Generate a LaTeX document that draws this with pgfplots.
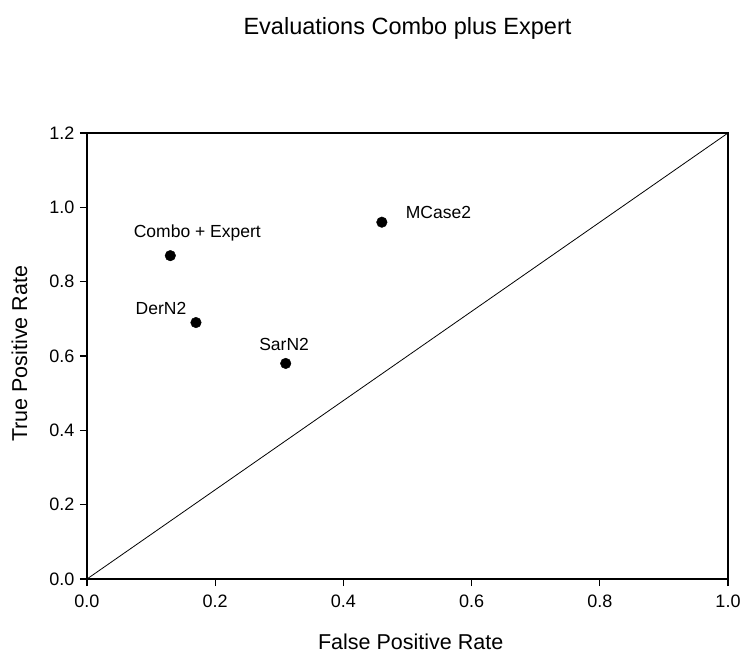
\documentclass[border=0pt]{standalone}
\usepackage{pgfplots}
\pgfplotsset{compat=1.18}
\usepackage{fontspec}
\setmainfont{Liberation Sans}
\newcommand{\ticksz}{\fontsize{18}{22}\selectfont}
\newcommand{\ptsz}{\fontsize{17.5}{21}\selectfont}
\newcommand{\labsz}{\fontsize{21.5}{26}\selectfont}
\newcommand{\titsz}{\fontsize{23.5}{28}\selectfont}
\begin{document}
\begin{tikzpicture}
\useasboundingbox (-87pt,-74pt) rectangle (654pt,579pt);
\begin{axis}[
  at={(0pt,0pt)}, anchor=south west,
  scale only axis, width=641pt, height=446pt,
  xmin=0, xmax=1, ymin=0, ymax=1.2,
  xtick={0,0.2,0.4,0.6,0.8,1.0},
  ytick={0,0.2,0.4,0.6,0.8,1.0,1.2},
  xtick pos=left, ytick pos=left,
  tick align=outside,
  major tick length=7pt,
  major tick style={black, line width=1.3pt},
  axis line style={line width=1.2pt},
  /pgf/number format/.cd, fixed, fixed zerofill, precision=1, assume math mode=true,
  /pgfplots/.cd,
  tick label style={font=\ticksz},
  xticklabel style={yshift=-5pt},
  yticklabel style={xshift=-2pt},
  title={Evaluations Combo plus Expert},
  title style={font=\titsz, at={(axis description cs:0.5,1.222)}, anchor=base, yshift=-7pt},
  xlabel={False Positive Rate},
  xlabel style={font=\labsz, at={(axis description cs:0.505,-0.157)}, anchor=base},
  ylabel={True Positive Rate},
  ylabel style={font=\labsz, at={(axis description cs:-0.0936,0.505)}, anchor=base},
  clip=false,
]
\addplot[black, line width=0.8pt, no marks] coordinates {(0,0) (1,1.2)};
\addplot[only marks, mark=*, mark size=5.3pt, black] coordinates {
  (0.13,0.87) (0.17,0.69) (0.31,0.58) (0.46,0.96)
};
\node[anchor=base, xshift=27pt, yshift=18pt, font=\ptsz] at (axis cs:0.13,0.87) {Combo + Expert};
\node[anchor=base, xshift=-35pt, yshift=8.4pt, font=\ptsz] at (axis cs:0.17,0.69) {DerN2};
\node[anchor=base, xshift=-1.6pt, yshift=13.4pt, font=\ptsz] at (axis cs:0.31,0.58) {SarN2};
\node[anchor=base, xshift=56.6pt, yshift=3.3pt, font=\ptsz] at (axis cs:0.46,0.96) {MCase2};
\end{axis}
\end{tikzpicture}
\end{document}
